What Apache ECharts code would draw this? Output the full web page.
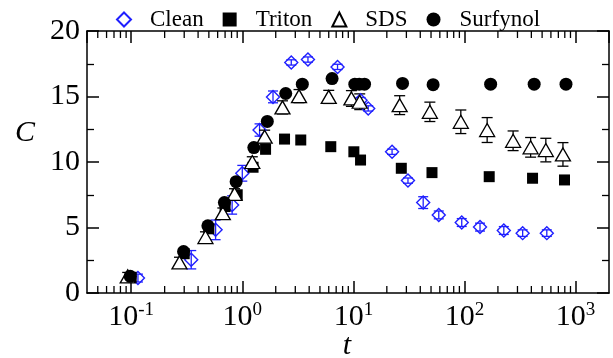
<!DOCTYPE html>
<html>
<head>
<meta charset="utf-8">
<script src="https://cdn.jsdelivr.net/npm/echarts@6/dist/echarts.min.js"></script>
<style>html,body{margin:0;padding:0;background:#fff}#c{width:613px;height:358px}</style>
</head>
<body>
<div id="c"></div>
<script>
// ---- data ----
const seriesNames = ['Clean', 'Triton', 'SDS', 'Surfynol'];
// Clean: [t, C, err]
const cleanT = [0.115, 0.347, 0.575, 0.81, 1.0, 1.43, 1.89, 2.76, 3.9, 7.2, 11.6, 13.6, 22.3, 31, 42.5, 58.7, 94.5, 138, 226, 334, 551];
const cleanC = [1.14, 2.54, 4.82, 6.72, 9.14, 12.44, 14.97, 17.6, 17.82, 17.26, 14.72, 14.09, 10.78, 8.58, 6.9, 5.96, 5.38, 5.03, 4.77, 4.57, 4.57];
const cleanErr = [0.3, 0.7, 0.75, 0.7, 0.6, 0.47, 0.45, 0.2, 0.2, 0.2, 0.2, 0.2, 0.2, 0.2, 0.45, 0.3, 0.3, 0.3, 0.3, 0.25, 0.25];
// Triton
const tritonT = [0.1, 0.3, 0.5, 0.7, 0.9, 1.25, 1.62, 2.4, 3.36, 6.26, 10.1, 11.6, 27, 51, 167, 410, 795];
const tritonC = [1.2, 3.0, 4.9, 6.6, 7.5, 9.6, 10.97, 11.75, 11.68, 11.17, 10.78, 10.15, 9.52, 9.19, 8.88, 8.76, 8.63];
// SDS
const sdsT = [0.093, 0.272, 0.466, 0.668, 0.852, 1.23, 1.59, 2.3, 3.24, 6.0, 9.6, 11.4, 26.1, 48.8, 92.7, 160, 274, 394, 540, 770];
const sdsC = [1.27, 2.33, 4.27, 6.09, 7.56, 10.0, 11.93, 14.17, 15.03, 14.97, 14.85, 14.6, 14.34, 13.83, 13.07, 12.44, 11.62, 11.12, 10.91, 10.58];
const sdsErr = [0.3, 0.4, 0.4, 0.4, 0.4, 0.4, 0.5, 0.5, 0.5, 0.5, 0.6, 0.6, 0.72, 0.74, 0.9, 0.95, 0.75, 0.75, 0.9, 0.9];
// Surfynol
const surfT = [0.098, 0.296, 0.49, 0.69, 0.88, 1.27, 1.68, 2.46, 3.47, 6.43, 10.3, 11.3, 12.6, 27.7, 52.2, 172, 424, 820];
const surfC = [1.27, 3.17, 5.13, 6.9, 8.5, 11.1, 13.1, 15.23, 15.94, 16.37, 15.94, 15.94, 15.94, 16.0, 15.9, 15.94, 15.94, 15.94];
// axes
const xMin = 0.04, xMax = 2000;
const yTicks = [0, 5, 10, 15, 20];
const minorDecades = [0.01, 0.1, 1, 10, 100, 1000];
const minorMults = [2, 3, 4, 5, 6, 7, 8, 9];

const FONT = "Liberation Serif";
const BLUE = '#1f1fff';

const zip = (a, b, c) => a.map((v, i) => c ? [v, b[i], c[i]] : [v, b[i]]);
const minorTicks = [];
minorDecades.forEach(d => minorMults.forEach(m => {
  const v = d * m;
  if (v > xMin && v < xMax) minorTicks.push([v, 0]);
}));

function errRender(color, cap) {
  return function (params, api) {
    const x = api.value(0), y = api.value(1), e = api.value(2);
    const hi = api.coord([x, y + e]);
    const lo = api.coord([x, y - e]);
    const st = { stroke: color, lineWidth: 1.3 };
    return {
      type: 'group',
      children: [
        { type: 'line', shape: { x1: hi[0], y1: hi[1], x2: lo[0], y2: lo[1] }, style: st },
        { type: 'line', shape: { x1: hi[0] - cap, y1: hi[1], x2: hi[0] + cap, y2: hi[1] }, style: st },
        { type: 'line', shape: { x1: lo[0] - cap, y1: lo[1], x2: lo[0] + cap, y2: lo[1] }, style: st }
      ]
    };
  };
}

const chart = echarts.init(document.getElementById('c'), null, { renderer: 'canvas' });
const axisLine = { show: true, onZero: false, lineStyle: { color: '#000', width: 1.5 } };
const option = {
  animation: false,
  backgroundColor: '#fff',
  grid: { left: 87, right: 4, top: 31, bottom: 65 },
  legend: {
    data: seriesNames,
    left: 111, top: 3,
    itemWidth: 14, itemHeight: 14, itemGap: 19,
    textStyle: { fontFamily: FONT, fontSize: 23, color: '#000', padding: [0, 0, 0, 14] },
    selectedMode: false
  },
  xAxis: [{
    type: 'log', min: xMin, max: xMax, position: 'bottom',
    axisLine: axisLine,
    axisTick: { show: true, inside: true, length: 12, lineStyle: { color: '#000', width: 1.5 } },
    splitLine: { show: false },
    axisLabel: {
      showMinLabel: false, showMaxLabel: false, margin: 8,
      formatter: v => '{b|10}{s|' + Math.round(Math.log10(v)) + '}',
      rich: {
        b: { fontFamily: FONT, fontSize: 30, color: '#000', lineHeight: 32 },
        s: { fontFamily: FONT, fontSize: 19, color: '#000', verticalAlign: 'top', lineHeight: 19 }
      }
    }
  }, {
    type: 'log', min: xMin, max: xMax, position: 'top',
    axisLine: axisLine,
    axisTick: { show: true, inside: true, length: 12, lineStyle: { color: '#000', width: 1.5 } },
    axisLabel: { show: false }, splitLine: { show: false }
  }],
  yAxis: [{
    type: 'value', min: 0, max: 20, interval: 5, position: 'left',
    axisLine: axisLine,
    axisTick: { show: true, inside: true, length: 12, lineStyle: { color: '#000', width: 1.5 } },
    minorTick: { show: true, splitNumber: 2, length: 7, lineStyle: { color: '#000', width: 1.3 } },
    splitLine: { show: false },
    axisLabel: { margin: 7, fontFamily: FONT, fontSize: 30, color: '#000',
      formatter: v => yTicks.indexOf(v) >= 0 ? String(v) : '' }
  }, {
    type: 'value', min: 0, max: 20, interval: 5, position: 'right',
    axisLine: axisLine,
    axisTick: { show: true, inside: true, length: 12, lineStyle: { color: '#000', width: 1.5 } },
    minorTick: { show: true, splitNumber: 2, length: 7, lineStyle: { color: '#000', width: 1.3 } },
    splitLine: { show: false }, axisLabel: { show: false }
  }],
  graphic: [
    { type: 'text', x: 25, y: 133, style: { text: 'C', font: 'italic 30px ' + FONT, fill: '#000', textAlign: 'center', textVerticalAlign: 'middle' } },
    { type: 'text', x: 347, y: 346, style: { text: 't', font: 'italic 30px ' + FONT, fill: '#000', textAlign: 'center', textVerticalAlign: 'middle' } }
  ],
  series: [
    { type: 'custom', name: 'minor', data: minorTicks, silent: true, z: 5,
      renderItem: function (params, api) {
        const t = api.value(0);
        const pb = api.coord([t, 0]);
        const pt = api.coord([t, 20]);
        const st = { stroke: '#000', lineWidth: 1.3 };
        return { type: 'group', children: [
          { type: 'line', shape: { x1: pb[0], y1: pb[1], x2: pb[0], y2: pb[1] - 7 }, style: st },
          { type: 'line', shape: { x1: pt[0], y1: pt[1], x2: pt[0], y2: pt[1] + 7 }, style: st }
        ] };
      } },
    { type: 'custom', name: 'cleanErr', data: zip(cleanT, cleanC, cleanErr), silent: true, z: 1, renderItem: errRender(BLUE, 5) },
    { type: 'custom', name: 'sdsErr', data: zip(sdsT, sdsC, sdsErr), silent: true, z: 1, renderItem: errRender('#000', 5.5) },
    { type: 'scatter', name: 'Clean', data: zip(cleanT, cleanC), symbol: 'diamond', symbolSize: [13, 13], z: 2,
      itemStyle: { color: 'rgba(255,255,255,0)', borderColor: BLUE, borderWidth: 1.4, opacity: 1 } },
    { type: 'scatter', name: 'Triton', data: zip(tritonT, tritonC), symbol: 'rect', symbolSize: 11, z: 3,
      itemStyle: { color: '#000', opacity: 1 } },
    { type: 'scatter', name: 'SDS', data: zip(sdsT, sdsC), symbol: 'triangle', symbolSize: [15, 13], z: 4,
      itemStyle: { color: '#fff', borderColor: '#000', borderWidth: 1.3, opacity: 1 } },
    { type: 'scatter', name: 'Surfynol', data: zip(surfT, surfC), symbol: 'circle', symbolSize: 13, z: 5,
      itemStyle: { color: '#000', opacity: 1 } }
  ]
};
chart.setOption(option);
</script>
</body>
</html>
